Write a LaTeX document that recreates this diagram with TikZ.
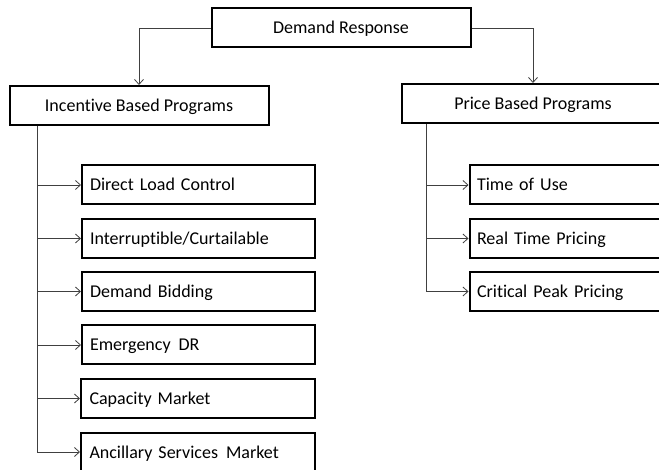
\documentclass[tikz,border=0pt]{standalone}
\usepackage{fontspec}
\setmainfont[Ligatures=NoCommon]{Carlito}
\usetikzlibrary{arrows.meta}
\begin{document}
\begin{tikzpicture}[x=1pt,y=-1pt,
  box/.style={draw=black,line width=2pt,minimum height=39pt,inner sep=0pt,text height=14pt,text depth=2pt,font=\fontsize{18}{21}\selectfont},
  headbox/.style={box,minimum width=259pt,align=center},
  leafbox/.style={box,minimum width=233pt,text width=217pt,align=left},
  conn/.style={draw=black!75,line width=0.8pt},
  arr/.style={conn,-{Straight Barb[length=5pt,width=9pt,line width=0.8pt]}}
]
\useasboundingbox (0,0) rectangle (659,470);
\node[headbox] (dr) at (341,28) {Demand Response};
\node[headbox] (ibp) at (139,105.5) {Incentive Based Programs};
\node[headbox,minimum width=262pt] (pbp) at (533,103.5) {Price Based Programs};
\node[leafbox] (dlc) at (198.5,185) {Direct Load Control};
\node[leafbox] (ic) at (198.5,238.5) {Interruptible/Curtailable};
\node[leafbox] (db) at (198.5,291.5) {Demand Bidding};
\node[leafbox] (edr) at (198.5,345) {Emergency\hspace{2pt} DR};
\node[leafbox,minimum width=234pt] (cm) at (198,398.5) {Capacity Market};
\node[leafbox,minimum width=234pt] (asm) at (198,452) {Ancillary Services\hspace{2pt} Market};
\node[leafbox,minimum width=195pt,text width=180pt] (tou) at (567,185) {Time of Use};
\node[leafbox,minimum width=195pt,text width=180pt] (rtp) at (567,238.5) {Real Time Pricing};
\node[leafbox,minimum width=195pt,text width=180pt] (cpp) at (567,291.5) {Critical Peak Pricing};
\coordinate (tl) at (37,0);
\coordinate (tr) at (426,0);
\draw[arr] (dr.west) -| (ibp.north);
\draw[arr] (dr.east) -| (pbp.north);
\draw[conn] (tl |- ibp.south) -- (tl |- asm.west);
\draw[conn] (tr |- pbp.south) -- (tr |- cpp.west);
\foreach \n in {dlc,ic,db,edr,cm,asm} \draw[arr] (tl |- \n.west) -- (\n.west);
\foreach \n in {tou,rtp,cpp} \draw[arr] (tr |- \n.west) -- (\n.west);
\end{tikzpicture}
\end{document}
